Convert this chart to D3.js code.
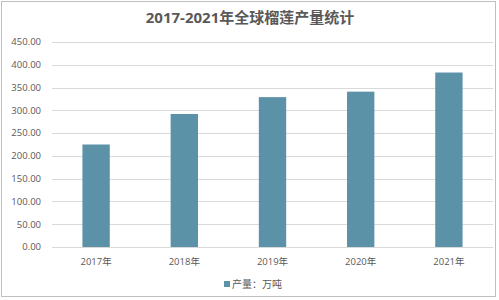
<!DOCTYPE html>
<html>
<head>
<meta charset="utf-8">
<script src="https://cdn.jsdelivr.net/npm/d3@7"></script>
<style>
  body { margin: 0; background: #fff; }
  text { font-family: "Open Sans", "Noto Sans CJK SC", sans-serif; fill: #595959; }
</style>
</head>
<body>
<div id="chart"></div>
<script>
var years = ["2017年", "2018年", "2019年", "2020年", "2021年"];
var output = [225, 292, 329, 341, 383];
var yTicks = [0, 50, 100, 150, 200, 250, 300, 350, 400, 450];
var title = "2017-2021年全球榴莲产量统计";
var seriesName = "产量：万吨";

var width = 499, height = 300;
var margin = {top: 42, right: 6, bottom: 53, left: 52};
var BAR = "#5b92a8";

var svg = d3.select("#chart").append("svg")
  .attr("width", width)
  .attr("height", height)

// outer frame
svg.append("rect")
  .attr("x", 1.5).attr("y", 1.5)
  .attr("width", 494).attr("height", 295)
  .attr("fill", "#fff")
  .attr("stroke", "#bfbfbf")

var x = d3.scaleBand()
  .domain(years)
  .range([margin.left, width - margin.right])
  .paddingInner(0.69)
  .paddingOuter(0.345)

var y = d3.scaleLinear()
  .domain([0, 450])
  .range([height - margin.bottom, margin.top])

var fmt = d3.format(".2f")

svg.append("g")
  .attr("class", "grid")
  .selectAll("line")
  .data(yTicks)
  .enter().append("line")
    .attr("x1", margin.left)
    .attr("x2", width - margin.right)
    .attr("y1", function(d){ return Math.round(y(d)) + 0.5 })
    .attr("y2", function(d){ return Math.round(y(d)) + 0.5 })
    .attr("stroke", "#d9d9d9")

svg.append("g")
  .selectAll("text")
  .data(yTicks)
  .enter().append("text")
    .attr("x", 41)
    .attr("y", function(d){ return y(d) })
    .attr("dy", "0.35em")
    .attr("text-anchor", "end")
    .attr("font-size", 9.5)
    .text(function(d){ return fmt(d) })

svg.append("g")
  .selectAll("rect")
  .data(output)
  .enter().append("rect")
    .attr("x", function(d, i){ return x(years[i]) })
    .attr("y", function(d){ return y(d) })
    .attr("width", x.bandwidth())
    .attr("height", function(d){ return y(0) - y(d) })
    .attr("fill", BAR)

svg.append("g")
  .selectAll("text")
  .data(years)
  .enter().append("text")
    .attr("x", function(d){ return x(d) + x.bandwidth() / 2 })
    .attr("y", 262)
    .attr("dy", "0.35em")
    .attr("text-anchor", "middle")
    .attr("font-size", 9.5)
    .text(function(d){ return d })

svg.append("text")
  .attr("x", 250)
  .attr("y", 18)
  .attr("dy", "0.35em")
  .attr("text-anchor", "middle")
  .attr("font-size", 15)
  .attr("font-weight", "bold")
  .text(title)

// legend
var legend = svg.append("g")
  .attr("transform", "translate(224, 284)")
legend.append("rect")
  .attr("x", 0).attr("y", -3)
  .attr("width", 6).attr("height", 6)
  .attr("fill", BAR)
legend.append("text")
  .attr("x", 8)
  .attr("dy", "0.35em")
  .attr("font-size", 10)
  .text(seriesName)
</script>
</body>
</html>
